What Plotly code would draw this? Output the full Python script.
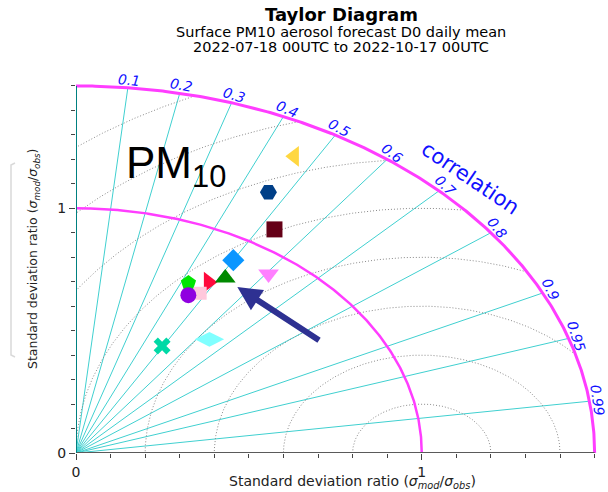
import numpy as np
import plotly.graph_objects as go

# ---------------- data ----------------
std_ratio = [1.367, 1.202, 1.079, 0.910, 0.919, 0.767, 0.796, 0.835, 0.745, 0.722, 0.604, 0.503]
correlation = [0.462, 0.463, 0.532, 0.500, 0.606, 0.424, 0.481, 0.517, 0.482, 0.450, 0.639, 0.495]
marker_symbols = ["triangle-left", "hexagon2", "square", "diamond", "triangle-down", "pentagon",
                  "triangle-right", "triangle-up", "square", "circle", "diamond-wide", "x"]
marker_colors = ["#FFD740", "#003F87", "#650017", "#0A96FF", "#FF80FF", "#00E600",
                 "#FF0A3C", "#008A00", "#FFC8DC", "#9000E0", "#80FFFF", "#00D9A6"]
marker_sizes = [18, 17, 16, 17, 18, 16, 18, 18, 13, 16, 21, 15]

corr_ticks = [0.1, 0.2, 0.3, 0.4, 0.5, 0.6, 0.7, 0.8, 0.9, 0.95, 0.99]
corr_tick_labels = ["0.1", "0.2", "0.3", "0.4", "0.5", "0.6", "0.7", "0.8", "0.9", "0.95", "0.99"]
rms_levels = [0.2, 0.4, 0.6, 0.8, 1.0, 1.2, 1.4, 1.6]
ref_std = 1.0
max_std = 1.5
arrow_std = [0.842, 0.823]     # tail, head
arrow_corr = [0.840, 0.567]

# ---------------- layout geometry ----------------
W, H = 608, 492
L, R, T, B = 76, 3, 81, 39
XMAX, YMAX = 1.53, 1.52
pw, ph = W - L - R, H - T - B
sx, sy = pw / XMAX, ph / YMAX


def px_x(p):
    return (p - L) / pw


def px_y(p):
    return (H - B - p) / ph


def polar(r, c):
    th = np.arccos(np.asarray(c, dtype=float))
    r = np.asarray(r, dtype=float)
    return r * np.cos(th), r * np.sin(th)


fig = go.Figure()

# correlation lines
lx, ly = [], []
for c in corr_ticks:
    x, y = polar(max_std, c)
    lx += [0, float(x), None]
    ly += [0, float(y), None]
fig.add_trace(go.Scatter(x=lx, y=ly, mode="lines", line=dict(color="#40D0D0", width=1),
                         hoverinfo="skip"))

# RMS dotted arcs centred on reference
ax_, ay_ = [], []
t = np.linspace(0, np.pi, 721)
for r in rms_levels:
    x = ref_std + r * np.cos(t)
    y = r * np.sin(t)
    ok = (x >= 0) & (y >= 0) & (x ** 2 + y ** 2 <= max_std ** 2 + 1e-9)
    seg_x, seg_y = [], []
    for xi, yi, k in zip(x, y, ok):
        if k:
            seg_x.append(float(xi)); seg_y.append(float(yi))
        elif seg_x:
            ax_ += seg_x + [None]; ay_ += seg_y + [None]
            seg_x, seg_y = [], []
    if seg_x:
        ax_ += seg_x + [None]; ay_ += seg_y + [None]
fig.add_trace(go.Scatter(x=ax_, y=ay_, mode="lines",
                         line=dict(color="#8a8a8a", width=1, dash="1px,2px"), hoverinfo="skip"))

# magenta arcs
tt = np.linspace(0, np.pi / 2, 300)
for r, w in [(ref_std, 2.5), (max_std, 3)]:
    fig.add_trace(go.Scatter(x=r * np.cos(tt), y=r * np.sin(tt), mode="lines",
                             line=dict(color="#FF3DFF", width=w), hoverinfo="skip"))

# model points
for s, c, sym, col, sz in zip(std_ratio, correlation, marker_symbols, marker_colors, marker_sizes):
    x, y = polar(s, c)
    fig.add_trace(go.Scatter(x=[float(x)], y=[float(y)], mode="markers",
                             marker=dict(symbol=sym, color=col, size=sz, line=dict(width=0))))

annotations = []
# correlation tick labels (paper coordinates so they can sit outside the axes)
off = 8
for c, lab in zip(corr_ticks, corr_tick_labels):
    th = np.arccos(c)
    x, y = polar(max_std, c)
    x = float(x) + off * np.cos(th) / sx
    y = float(y) + off * np.sin(th) / sy
    annotations.append(dict(x=x / XMAX, y=y / YMAX, xref="paper", yref="paper",
                            text=f"<i>{lab}</i>", showarrow=False,
                            textangle=90 - np.degrees(th), xanchor="center", yanchor="middle",
                            font=dict(size=14, color="#1010FF")))

annotations.append(dict(x=px_x(470), y=px_y(178), xref="paper", yref="paper", text="correlation",
                        showarrow=False, textangle=34, font=dict(size=21, color="#1010FF"),
                        xanchor="center", yanchor="middle"))

# arrow
tx, ty = polar(arrow_std[0], arrow_corr[0])
hx, hy = polar(arrow_std[1], arrow_corr[1])
annotations.append(dict(x=float(hx), y=float(hy), ax=float(tx), ay=float(ty), xref="x", yref="y",
                        axref="x", ayref="y", text="", showarrow=True, arrowhead=2, arrowsize=0.8,
                        arrowwidth=6, arrowcolor="#2E3192", standoff=0))

# PM10 label
annotations.append(dict(x=px_x(124), y=px_y(166), xref="paper", yref="paper",
                        text="PM<sub>10</sub>", showarrow=False, xanchor="left", yanchor="middle",
                        font=dict(size=44, color="black", family="Liberation Sans")))

# titles
annotations.append(dict(x=px_x(341), y=px_y(15), xref="paper", yref="paper", text="<b>Taylor Diagram</b>",
                        showarrow=False, xanchor="center", yanchor="middle",
                        font=dict(size=18, color="black")))
annotations.append(dict(x=px_x(341), y=px_y(32), xref="paper", yref="paper",
                        text="Surface PM10 aerosol forecast D0 daily mean",
                        showarrow=False, xanchor="center", yanchor="middle",
                        font=dict(size=14.5, color="black")))
annotations.append(dict(x=px_x(341), y=px_y(47), xref="paper", yref="paper",
                        text="2022-07-18 00UTC to 2022-10-17 00UTC",
                        showarrow=False, xanchor="center", yanchor="middle",
                        font=dict(size=14.5, color="black")))

axis_title = "Standard deviation ratio (<i>σ</i><sub><i>mod</i></sub>/<i>σ</i><sub><i>obs</i></sub>)"
annotations.append(dict(x=px_x(352), y=px_y(482), xref="paper", yref="paper", text=axis_title,
                        showarrow=False, xanchor="center", yanchor="middle",
                        font=dict(size=14, color="#222")))
annotations.append(dict(x=px_x(33), y=px_y(259), xref="paper", yref="paper", text=axis_title,
                        showarrow=False, xanchor="center", yanchor="middle", textangle=-90,
                        font=dict(size=12.5, color="#222")))

shapes = [
    dict(type="line", xref="x", yref="y", x0=0, y0=0, x1=max_std, y1=0,
         line=dict(color="#5a5a5a", width=2), layer="above"),
    dict(type="line", xref="x", yref="y", x0=0, y0=0, x1=0, y1=max_std,
         line=dict(color="#008080", width=2), layer="above"),
    dict(type="path", xref="paper", yref="paper",
         path=f"M {px_x(15)},{px_y(163)} L {px_x(11)},{px_y(165)} L {px_x(11)},{px_y(355)} L {px_x(15)},{px_y(357)}",
         line=dict(color="#d9d9d9", width=1.5)),
]

axis_common = dict(showgrid=False, zeroline=False, showline=False, ticks="outside", ticklen=6,
                   tickwidth=1.2, tickcolor="#444", tickmode="array", tickvals=[0, 1],
                   ticktext=["0", "1"], tickfont=dict(size=14, color="#222"),
                   minor=dict(ticks="outside", ticklen=4, tickwidth=1.2, tickcolor="#444",
                              dtick=0.1, tick0=0, showgrid=False))

fig.update_layout(
    width=W, height=H, margin=dict(l=L, r=R, t=T, b=B, pad=0),
    paper_bgcolor="white", plot_bgcolor="white", showlegend=False,
    font=dict(family="DejaVu Sans", color="#222"),
    xaxis=dict(range=[0, XMAX], **axis_common),
    yaxis=dict(range=[0, YMAX], **axis_common),
    annotations=annotations, shapes=shapes,
)

fig.write_html("out.html", config={"displayModeBar": False},
               post_script="document.body.style.margin='0px';")
